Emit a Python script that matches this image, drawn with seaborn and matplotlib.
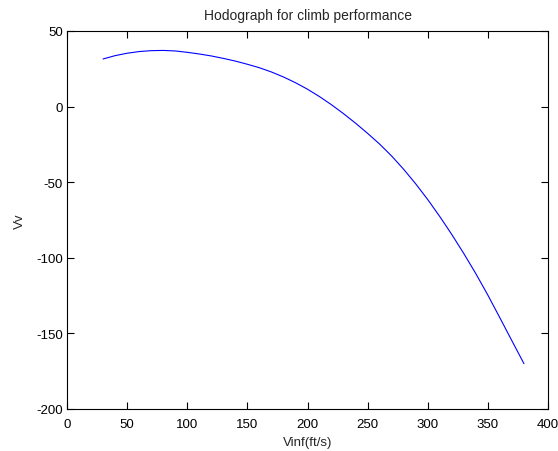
import matplotlib
matplotlib.use("Agg")
import matplotlib.pyplot as plt
import seaborn as sns
import pandas as pd

vinf = [30, 40, 50, 60, 70, 80, 90, 100, 110, 120, 130, 140, 150, 160, 170, 180,
        190, 200, 210, 220, 230, 240, 250, 260, 270, 280, 290, 300, 310, 320, 330,
        340, 350, 360, 370, 380]
vv = [31.5, 33.7, 35.3, 36.4, 37.0, 37.15, 36.8, 35.9, 34.8, 33.5, 31.9, 30.1, 28.0,
      25.7, 22.9, 19.6, 15.8, 11.5, 6.6, 1.2, -4.7, -11.0, -17.7, -24.8, -32.7,
      -41.5, -51.1, -61.5, -72.7, -84.6, -97.2, -110.5, -124.7, -139.7, -154.9, -170.0]
xticks = [0, 50, 100, 150, 200, 250, 300, 350, 400]
yticks = [-200, -150, -100, -50, 0, 50]

df = pd.DataFrame({"Vinf": vinf, "Vv": vv})

sns.set_style("ticks")
plt.rcParams['font.family'] = ['Liberation Sans', 'DejaVu Sans']
plt.rcParams['font.size'] = 9.5
plt.rcParams['axes.unicode_minus'] = False

fig = plt.figure(figsize=(5.58, 4.52), dpi=100)
ax = fig.add_axes([67/558, 1 - 410/452, (548 - 67)/558, (410 - 32)/452])
sns.lineplot(data=df, x="Vinf", y="Vv", ax=ax, color="#0000ff", linewidth=0.8)

ax.set_xlim(0, 400)
ax.set_ylim(-200, 50)
ax.set_xticks(xticks)
ax.set_yticks(yticks)
ax.tick_params(direction="in", length=5, width=0.8, top=True, right=True,
               labelsize=9.5, colors="black")
ax.tick_params(axis="x", pad=6.5)
ax.tick_params(axis="y", pad=3)
for s in ax.spines.values():
    s.set_visible(True)
    s.set_linewidth(0.8)
    s.set_color("black")
ax.set_xlabel("Vinf(ft/s)", fontsize=9.5, labelpad=4)
ax.set_ylabel("Vv", fontsize=9.5, labelpad=7)
ax.set_title("Hodograph for climb performance", fontsize=10, pad=8.5)

fig.savefig("out.png", dpi=100, facecolor="white")
